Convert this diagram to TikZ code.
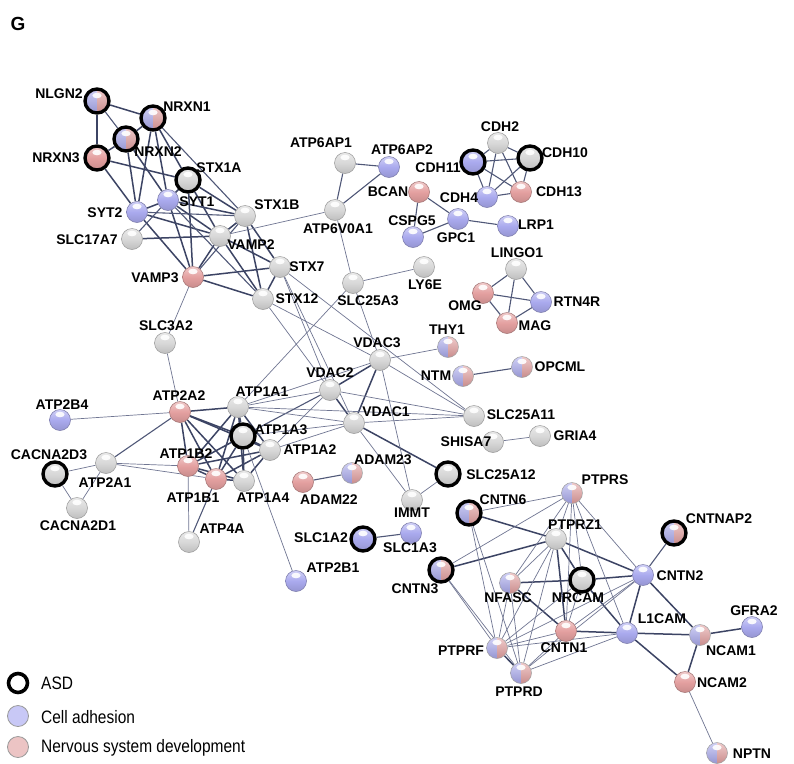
\documentclass[tikz,border=0pt]{standalone}
\usepackage{fontspec}
\setmainfont{Liberation Sans}
\newfontfamily\legendfont[FakeStretch=0.86]{Liberation Sans}
\usepackage{tikz}

\definecolor{cellblue}{RGB}{170,170,238}
\definecolor{nsdred}{RGB}{228,160,160}
\definecolor{grayball}{RGB}{216,216,216}
\definecolor{legblue}{RGB}{200,200,246}
\definecolor{legred}{RGB}{236,196,196}
\definecolor{strongcol}{RGB}{60,68,100}
\definecolor{midcol}{RGB}{80,88,120}
\definecolor{weakcol}{RGB}{112,118,146}

\pgfdeclarelayer{paper}
\pgfdeclarelayer{links}
\pgfsetlayers{paper,links,main}

\tikzset{
  gloss/.style={path picture={\fill[white,opacity=.9] ([yshift=5.5pt]path picture bounding box.center) ellipse [x radius=4.6pt, y radius=2.8pt];}},
  gene/.style={circle, inner sep=0pt, minimum size=21pt, draw=#1!70!black, line width=0.5pt,
    top color=#1!55!white, bottom color=#1!88!black, middle color=#1, gloss},
  gnode/.style={gene=grayball},
  bnode/.style={gene=cellblue},
  rnode/.style={gene=nsdred},
  hnode/.style={circle, inner sep=0pt, minimum size=21pt, draw=gray!75, line width=0.5pt,
    path picture={
      \shade[top color=cellblue!55!white, middle color=cellblue, bottom color=cellblue!88!black]
        (path picture bounding box.south west) rectangle (path picture bounding box.north);
      \shade[top color=nsdred!55!white, middle color=nsdred, bottom color=nsdred!88!black]
        (path picture bounding box.south) rectangle (path picture bounding box.north east);
      \fill[white,opacity=.9] ([yshift=5.5pt]path picture bounding box.center) ellipse [x radius=4.6pt, y radius=2.8pt];}},
  asd/.style={draw=black, line width=3.4pt, minimum size=24pt},
  lab/.style={font=\bfseries\fontsize{14}{16}\selectfont, inner sep=0pt},
  legtxt/.style={font=\legendfont\fontsize{18}{20}\selectfont, inner sep=0pt, anchor=west},
  strong/.style={every edge/.style={draw=strongcol, line width=1.5pt}},
  medium/.style={every edge/.style={draw=midcol, line width=1.1pt}},
  weak/.style={every edge/.style={draw=weakcol, line width=0.7pt}},
}

\begin{document}
\begin{tikzpicture}[x=1pt, y=-1pt]
\begin{pgfonlayer}{paper}
  \fill[white] (0,0) rectangle (794,763);
\end{pgfonlayer}
\useasboundingbox (0,0) rectangle (794,763);

\node[font=\bfseries\fontsize{19}{21}\selectfont, inner sep=0pt] (panel) at (18,24) {G};

% synaptic cluster
\node[hnode,asd] (NLGN2) at (97,101) {};   \node[lab] (NLGN2-t) at (59,94) {NLGN2};
\node[hnode,asd] (NRXN1) at (153,118) {};  \node[lab] (NRXN1-t) at (187,107) {NRXN1};
\node[hnode,asd] (NRXN2) at (126,139) {};  \node[lab] (NRXN2-t) at (158,152) {NRXN2};
\node[rnode,asd] (NRXN3) at (97,158) {};   \node[lab] (NRXN3-t) at (56,158) {NRXN3};
\node[gnode,asd] (STX1A) at (188,180) {};  \node[lab] (STX1A-t) at (219,168) {STX1A};
\node[bnode] (SYT1) at (168,200) {};       \node[lab] (SYT1-t) at (197,202) {SYT1};
\node[bnode] (SYT2) at (137,212) {};       \node[lab] (SYT2-t) at (105,213) {SYT2};
\node[gnode] (SLC17A7) at (132,239) {};    \node[lab] (SLC17A7-t) at (87,240) {SLC17A7};
\node[gnode] (STX1B) at (245,216) {};      \node[lab] (STX1B-t) at (277,205) {STX1B};
\node[gnode] (VAMP2) at (220,236) {};      \node[lab] (VAMP2-t) at (251,245) {VAMP2};
\node[rnode] (VAMP3) at (193,277) {};      \node[lab] (VAMP3-t) at (155,278) {VAMP3};
\node[gnode] (STX7) at (280,267) {};       \node[lab] (STX7-t) at (307,267) {STX7};
\node[gnode] (STX12) at (263,299) {};      \node[lab] (STX12-t) at (297,299) {STX12};
\node[gnode] (SLC3A2) at (165,343) {};     \node[lab] (SLC3A2-t) at (166,326) {SLC3A2};

% upper middle
\node[gnode] (ATP6AP1) at (345,163) {};    \node[lab] (ATP6AP1-t) at (321,143) {ATP6AP1};
\node[bnode] (ATP6AP2) at (389,167) {};    \node[lab] (ATP6AP2-t) at (402,150) {ATP6AP2};
\node[gnode] (ATP6V0A1) at (335,210) {};   \node[lab] (ATP6V0A1-t) at (338,229) {ATP6V0A1};
\node[gnode] (SLC25A3) at (353,283) {};    \node[lab] (SLC25A3-t) at (368,301) {SLC25A3};
\node[gnode] (LY6E) at (424,267) {};       \node[lab] (LY6E-t) at (425,285) {LY6E};
\node[rnode] (BCAN) at (419,192) {};       \node[lab] (BCAN-t) at (388,192) {BCAN};
\node[bnode] (CSPG5) at (413,237) {};      \node[lab] (CSPG5-t) at (412,221) {CSPG5};
\node[bnode] (GPC1) at (458,219) {};       \node[lab] (GPC1-t) at (456,238) {GPC1};
\node[bnode] (LRP1) at (508,226) {};       \node[lab] (LRP1-t) at (536,225) {LRP1};

% cadherins
\node[gnode] (CDH2) at (498,143) {};       \node[lab] (CDH2-t) at (500,127) {CDH2};
\node[bnode,asd] (CDH11) at (473,162) {};  \node[lab] (CDH11-t) at (438,168) {CDH11};
\node[gnode,asd] (CDH10) at (530,158) {};  \node[lab] (CDH10-t) at (565,153) {CDH10};
\node[bnode] (CDH4) at (487,197) {};       \node[lab] (CDH4-t) at (459,198) {CDH4};
\node[rnode] (CDH13) at (521,192) {};      \node[lab] (CDH13-t) at (559,192) {CDH13};

% myelin
\node[gnode] (LINGO1) at (516,269) {};     \node[lab] (LINGO1-t) at (517,253) {LINGO1};
\node[rnode] (OMG) at (483,293) {};        \node[lab] (OMG-t) at (465,306) {OMG};
\node[bnode] (RTN4R) at (541,302) {};      \node[lab] (RTN4R-t) at (577,302) {RTN4R};
\node[rnode] (MAG) at (507,323) {};        \node[lab] (MAG-t) at (535,326) {MAG};
\node[hnode] (THY1) at (448,347) {};       \node[lab] (THY1-t) at (447,330) {THY1};
\node[hnode] (NTM) at (463,376) {};        \node[lab] (NTM-t) at (436,376) {NTM};
\node[hnode] (OPCML) at (522,367) {};      \node[lab] (OPCML-t) at (560,367) {OPCML};

% mitochondrial
\node[gnode] (VDAC3) at (380,360) {};      \node[lab] (VDAC3-t) at (377,343) {VDAC3};
\node[gnode] (VDAC2) at (330,390) {};      \node[lab] (VDAC2-t) at (330,373) {VDAC2};
\node[gnode] (VDAC1) at (354,423) {};      \node[lab] (VDAC1-t) at (386,412) {VDAC1};
\node[gnode] (SLC25A11) at (474,416) {};   \node[lab] (SLC25A11-t) at (521,415) {SLC25A11};
\node[gnode] (SHISA7) at (493,442) {};     \node[lab] (SHISA7-t) at (466,442) {SHISA7};
\node[gnode] (GRIA4) at (540,436) {};      \node[lab] (GRIA4-t) at (575,436) {GRIA4};
\node[hnode] (ADAM23) at (352,473) {};     \node[lab] (ADAM23-t) at (383,460) {ADAM23};
\node[rnode] (ADAM22) at (303,482) {};     \node[lab] (ADAM22-t) at (329,500) {ADAM22};
\node[gnode,asd] (SLC25A12) at (448,474) {}; \node[lab] (SLC25A12-t) at (501,475) {SLC25A12};
\node[gnode] (IMMT) at (412,500) {};       \node[lab] (IMMT-t) at (412,513) {IMMT};
\node[bnode] (SLC1A3) at (411,533) {};     \node[lab] (SLC1A3-t) at (410,548) {SLC1A3};
\node[bnode,asd] (SLC1A2) at (363,539) {}; \node[lab] (SLC1A2-t) at (321,538) {SLC1A2};
\node[bnode] (ATP2B1) at (296,581) {};     \node[lab] (ATP2B1-t) at (333,568) {ATP2B1};

% ATPases
\node[bnode] (ATP2B4) at (60,420) {};      \node[lab] (ATP2B4-t) at (62,405) {ATP2B4};
\node[rnode] (ATP2A2) at (180,412) {};     \node[lab] (ATP2A2-t) at (179,396) {ATP2A2};
\node[gnode] (ATP1A1) at (238,407) {};     \node[lab] (ATP1A1-t) at (262,392) {ATP1A1};
\node[gnode,asd] (ATP1A3) at (243,436) {}; \node[lab] (ATP1A3-t) at (281,430) {ATP1A3};
\node[gnode] (ATP1A2) at (270,450) {};     \node[lab] (ATP1A2-t) at (310,450) {ATP1A2};
\node[gnode,asd] (CACNA2D3) at (55,474) {}; \node[lab] (CACNA2D3-t) at (49,455) {CACNA2D3};
\node[gnode] (ATP2A1) at (106,463) {};     \node[lab] (ATP2A1-t) at (105,483) {ATP2A1};
\node[gnode] (CACNA2D1) at (77,508) {};    \node[lab] (CACNA2D1-t) at (78,526) {CACNA2D1};
\node[rnode] (ATP1B2) at (188,466) {};     \node[lab] (ATP1B2-t) at (186,454) {ATP1B2};
\node[rnode] (ATP1B1) at (216,479) {};     \node[lab] (ATP1B1-t) at (193,498) {ATP1B1};
\node[gnode] (ATP1A4) at (244,481) {};     \node[lab] (ATP1A4-t) at (263,498) {ATP1A4};
\node[gnode] (ATP4A) at (189,542) {};      \node[lab] (ATP4A-t) at (222,529) {ATP4A};

% contactins and partners
\node[hnode] (PTPRS) at (572,493) {};      \node[lab] (PTPRS-t) at (605,480) {PTPRS};
\node[hnode,asd] (CNTN6) at (469,513) {};  \node[lab] (CNTN6-t) at (503,500) {CNTN6};
\node[gnode] (PTPRZ1) at (556,539) {};     \node[lab] (PTPRZ1-t) at (575,525) {PTPRZ1};
\node[hnode,asd] (CNTNAP2) at (674,533) {}; \node[lab] (CNTNAP2-t) at (719,519) {CNTNAP2};
\node[hnode,asd] (CNTN3) at (441,570) {};  \node[lab] (CNTN3-t) at (415,589) {CNTN3};
\node[hnode] (NFASC) at (510,583) {};      \node[lab] (NFASC-t) at (508,598) {NFASC};
\node[gnode,asd] (NRCAM) at (582,580) {};  \node[lab] (NRCAM-t) at (578,598) {NRCAM};
\node[bnode] (CNTN2) at (643,575) {};      \node[lab] (CNTN2-t) at (680,576) {CNTN2};
\node[bnode] (L1CAM) at (627,633) {};      \node[lab] (L1CAM-t) at (662,619) {L1CAM};
\node[rnode] (CNTN1) at (566,631) {};      \node[lab] (CNTN1-t) at (564,648) {CNTN1};
\node[hnode] (PTPRF) at (497,648) {};      \node[lab] (PTPRF-t) at (461,651) {PTPRF};
\node[hnode] (PTPRD) at (521,673) {};      \node[lab] (PTPRD-t) at (519,692) {PTPRD};
\node[hnode] (NCAM1) at (700,635) {};      \node[lab] (NCAM1-t) at (731,651) {NCAM1};
\node[bnode] (GFRA2) at (752,627) {};      \node[lab] (GFRA2-t) at (754,611) {GFRA2};
\node[rnode] (NCAM2) at (685,682) {};      \node[lab] (NCAM2-t) at (722,683) {NCAM2};
\node[hnode] (NPTN) at (717,753) {};       \node[lab] (NPTN-t) at (752,754) {NPTN};

% legend
\node[circle, draw=black, line width=3.6pt, minimum size=19pt, fill=white] (keyASD) at (18,683) {};
\node[legtxt] (keyASD-t) at (41,683) {ASD};
\node[circle, draw=gray!80, line width=0.8pt, minimum size=21pt, fill=legblue] (keyCA) at (18,716) {};
\node[legtxt] (keyCA-t) at (41,717) {Cell adhesion};
\node[circle, draw=gray!80, line width=0.8pt, minimum size=21pt, fill=legred] (keyNSD) at (18,747) {};
\node[legtxt] (keyNSD-t) at (41,748) {Nervous system development};

\begin{pgfonlayer}{links}
\begin{scope}[strong]
\path (NLGN2) edge (NRXN1) (NLGN2) edge (NRXN3) (NRXN1) edge (NRXN2) (NRXN2) edge (NRXN3)
      (NRXN3) edge (SYT2) (NRXN1) edge (SYT1) (NRXN1) edge (SYT2) (NRXN2) edge (SYT2)
      (NRXN2) edge (SYT1) (NRXN1) edge (STX1A) (NRXN3) edge (STX1A)
      (STX1A) edge (SYT1) (STX1A) edge (VAMP2) (STX1A) edge (VAMP3) (STX1A) edge (STX1B)
      (SYT1) edge (SYT2) (SYT1) edge (STX1B) (SYT1) edge (VAMP2) (SYT1) edge (VAMP3)
      (SYT2) edge (VAMP2) (SYT2) edge (VAMP3) (SLC17A7) edge (VAMP2)
      (VAMP2) edge (STX1B) (VAMP2) edge (VAMP3) (VAMP2) edge (STX7) (VAMP2) edge (STX12)
      (VAMP3) edge (STX7) (VAMP3) edge (STX12) (STX1B) edge (STX7) (STX1B) edge (STX12)
      (STX7) edge (STX12);
\path (ATP2A2) edge (ATP1A1) (ATP2A2) edge (ATP1A3) (ATP2A2) edge (ATP1A2) (ATP2A2) edge (ATP1B2)
      (ATP2A2) edge (ATP1B1) (ATP2A2) edge (ATP1A4)
      (ATP1A1) edge (ATP1A3) (ATP1A1) edge (ATP1A2) (ATP1A1) edge (ATP1B2) (ATP1A1) edge (ATP1B1)
      (ATP1A1) edge (ATP1A4) (ATP1A3) edge (ATP1A2) (ATP1A3) edge (ATP1B2) (ATP1A3) edge (ATP1B1)
      (ATP1A3) edge (ATP1A4) (ATP1A2) edge (ATP1B2) (ATP1A2) edge (ATP1B1) (ATP1A2) edge (ATP1A4)
      (ATP1B2) edge (ATP1B1) (ATP1B2) edge (ATP1A4) (ATP1B1) edge (ATP1A4);
\path (VDAC2) edge (VDAC3) (VDAC2) edge (VDAC1) (VDAC3) edge (VDAC1) (VDAC1) edge (SLC25A12);
\path (NFASC) edge (NRCAM) (NFASC) edge (CNTN1) (NRCAM) edge (CNTN2) (CNTN3) edge (PTPRZ1)
      (CNTN6) edge (PTPRZ1) (PTPRZ1) edge (CNTN2) (PTPRZ1) edge (NRCAM) (PTPRZ1) edge (CNTN1)
      (CNTN2) edge (L1CAM) (CNTN2) edge (NCAM1) (L1CAM) edge (NCAM1) (L1CAM) edge (NCAM2)
      (CNTN1) edge (L1CAM) (NCAM1) edge (NCAM2) (NCAM1) edge (GFRA2) (NRCAM) edge (L1CAM)
      (PTPRF) edge (PTPRD);
\end{scope}
\begin{scope}[medium]
\path (NLGN2) edge (NRXN2) (NRXN1) edge (STX1B) (SYT1) edge (SLC17A7) (SYT1) edge (STX12)
      (SYT2) edge (STX1B) (VAMP3) edge (STX1B)
      (ATP6AP1) edge (ATP6AP2) (ATP6AP1) edge (ATP6V0A1) (ATP6AP2) edge (ATP6V0A1)
      (BCAN) edge (CSPG5) (BCAN) edge (GPC1) (CSPG5) edge (GPC1) (GPC1) edge (LRP1)
      (CDH2) edge (CDH11) (CDH2) edge (CDH10) (CDH2) edge (CDH4) (CDH2) edge (CDH13)
      (CDH11) edge (CDH10) (CDH11) edge (CDH4) (CDH11) edge (CDH13) (CDH10) edge (CDH4)
      (CDH10) edge (CDH13) (CDH4) edge (CDH13)
      (LINGO1) edge (OMG) (LINGO1) edge (RTN4R) (LINGO1) edge (MAG) (OMG) edge (RTN4R)
      (OMG) edge (MAG) (RTN4R) edge (MAG)
      (NTM) edge (OPCML) (ADAM22) edge (ADAM23) (SLC1A2) edge (SLC1A3)
      (ATP2A1) edge (ATP2A2) (ATP4A) edge (ATP1B1) (ATP1A3) edge (VDAC2) (CNTNAP2) edge (CNTN2);
\end{scope}
\begin{scope}[weak]
\path (VAMP3) edge (SLC3A2) (SLC3A2) edge (ATP2A2) (VAMP2) edge (ATP6V0A1)
      (ATP6V0A1) edge (SLC25A3) (SLC25A3) edge (LY6E) (SLC25A3) edge (VDAC3) (SLC25A3) edge (ATP1A1)
      (STX12) edge (VDAC2) (STX7) edge (VDAC2) (STX12) edge (VDAC3) (STX7) edge (VDAC1)
      (STX7) edge (SLC25A11)
      (VDAC3) edge (THY1) (VDAC3) edge (SLC25A11) (VDAC3) edge (IMMT) (VDAC2) edge (SLC25A11)
      (VDAC1) edge (SLC25A11) (VDAC1) edge (IMMT) (IMMT) edge (SLC25A12)
      (ATP1A1) edge (VDAC2) (ATP1A1) edge (VDAC1) (ATP1A1) edge (VDAC3) (ATP1A1) edge (SLC25A11)
      (ATP1A3) edge (VDAC1) (ATP1A2) edge (VDAC1) (ATP1A2) edge (VDAC2)
      (ATP2B4) edge (ATP2A2) (ATP2A1) edge (ATP1B2) (ATP2A1) edge (ATP1B1)
      (ATP2A1) edge (CACNA2D3) (ATP2A1) edge (CACNA2D1) (CACNA2D3) edge (CACNA2D1)
      (ATP4A) edge (ATP1B2) (ATP1A3) edge (ATP2B1) (SHISA7) edge (GRIA4) (NCAM2) edge (NPTN);
\path (CNTN6) edge (PTPRS) (CNTN6) edge (PTPRF) (CNTN6) edge (PTPRD)
      (CNTN3) edge (PTPRS) (CNTN3) edge (PTPRF) (CNTN3) edge (PTPRD)
      (PTPRS) edge (PTPRZ1) (PTPRS) edge (NFASC) (PTPRS) edge (NRCAM) (PTPRS) edge (CNTN1)
      (PTPRS) edge (L1CAM) (PTPRS) edge (CNTN2)
      (PTPRZ1) edge (NFASC) (PTPRZ1) edge (PTPRF) (PTPRZ1) edge (PTPRD)
      (NFASC) edge (PTPRF) (NFASC) edge (PTPRD)
      (CNTN2) edge (CNTN1) (CNTN2) edge (PTPRF) (CNTN2) edge (PTPRD)
      (CNTN1) edge (PTPRF) (CNTN1) edge (PTPRD) (L1CAM) edge (PTPRF) (L1CAM) edge (PTPRD)
      (NRCAM) edge (CNTN1) (NRCAM) edge (PTPRF);
\end{scope}
\end{pgfonlayer}
\end{tikzpicture}
\end{document}
